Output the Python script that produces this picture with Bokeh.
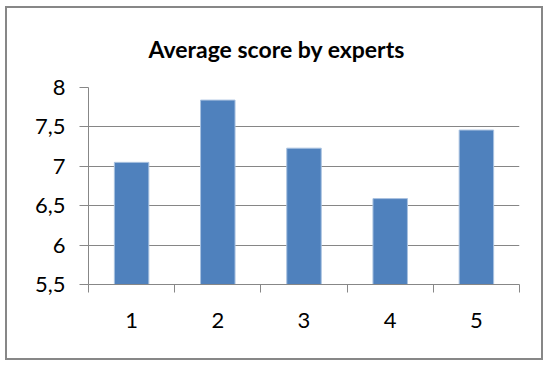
from bokeh.plotting import figure
from bokeh.models import FixedTicker, Title
from bokeh.embed import file_html
from bokeh.resources import INLINE

# ---- data ----
experts = ["1", "2", "3", "4", "5"]
scores = [7.05, 7.84, 7.23, 6.59, 7.46]
y_ticks = [5.5, 6.0, 6.5, 7.0, 7.5, 8.0]
y_tick_labels = ["5,5", "6", "6,5", "7", "7,5", "8"]
title_text = "Average score by experts"

xs = list(range(1, len(experts) + 1))
GREY = "#878787"
FONT = "Lato"

p = figure(width=538, height=354, output_backend="svg", toolbar_location=None,
           x_range=(0.5, len(experts) + 0.5), y_range=(y_ticks[0], y_ticks[-1]),
           min_border_left=81, min_border_right=26, min_border_top=79, min_border_bottom=78)
p.styles = {"border": "2px solid " + GREY, "margin-left": "5px", "margin-top": "6px"}
p.outline_line_color = None
p.background_fill_color = "white"
p.border_fill_color = "white"

p.title = Title(text=title_text, align="left", text_font=FONT, text_font_size="23px",
                text_font_style="bold", text_color="#000000", standoff=49, offset=60)

p.vbar(x=xs, top=scores, bottom=y_ticks[0], width=0.4,
       fill_color="#4F81BD", line_color="#A9C2E0", line_width=1)

# x axis: labels at centers, tick marks at category boundaries (minor ticks)
xa = p.xaxis[0]
xa.ticker = FixedTicker(ticks=xs, minor_ticks=[x - 0.5 for x in xs] + [xs[-1] + 0.5])
xa.major_label_overrides = {x: lab for x, lab in zip(xs, experts)}
xa.major_tick_line_color = None
xa.major_tick_in = 0
xa.major_tick_out = 0
xa.minor_tick_line_color = GREY
xa.minor_tick_in = 0
xa.minor_tick_out = 8
xa.axis_line_color = GREY
xa.major_label_text_font = FONT
xa.major_label_text_font_size = "22px"
xa.major_label_text_color = "#000000"
xa.major_label_standoff = 20

ya = p.yaxis[0]
ya.ticker = FixedTicker(ticks=y_ticks, minor_ticks=[])
ya.major_label_overrides = {t: lab for t, lab in zip(y_ticks, y_tick_labels)}
ya.major_tick_line_color = GREY
ya.major_tick_in = 0
ya.major_tick_out = 9
ya.minor_tick_line_color = None
ya.axis_line_color = GREY
ya.major_label_text_font = FONT
ya.major_label_text_font_size = "22px"
ya.major_label_text_color = "#000000"
ya.major_label_standoff = 14

p.xgrid.visible = False
p.ygrid.grid_line_color = "#868686"
p.ygrid.grid_line_width = 1

open("out.html", "w").write(file_html(p, INLINE))
